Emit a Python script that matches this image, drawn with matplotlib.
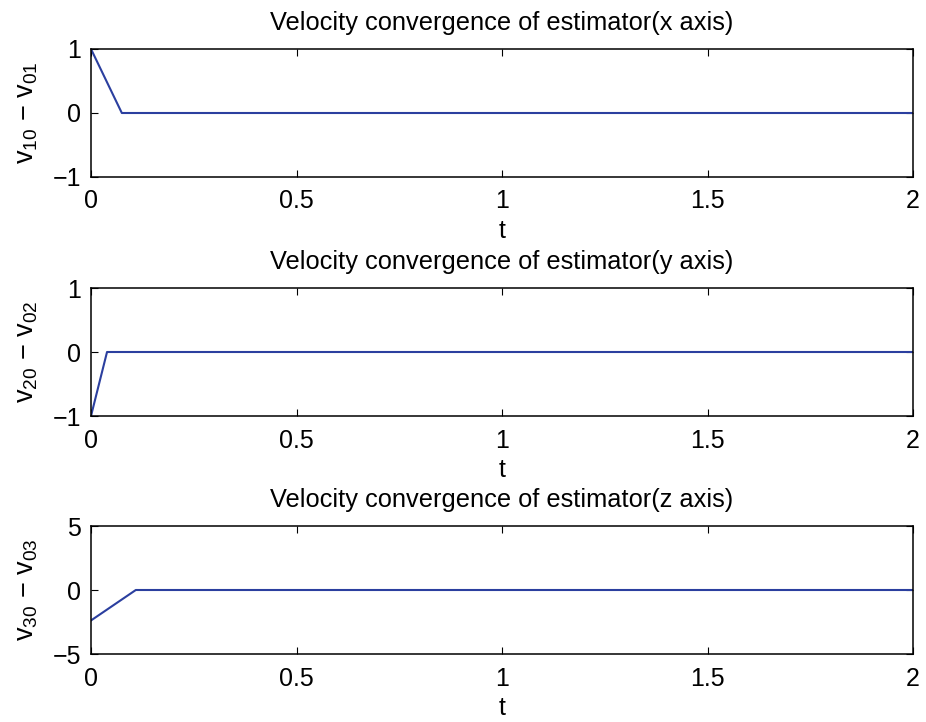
import matplotlib
matplotlib.use("Agg")
import matplotlib.pyplot as plt

plt.rcParams['font.family'] = ['Liberation Sans', 'DejaVu Sans']
plt.rcParams['mathtext.default'] = 'regular'
plt.rcParams['mathtext.fontset'] = 'custom'
plt.rcParams['mathtext.rm'] = 'Liberation Sans'

# error curves (t, value)
t_x = [0, 0.075, 2]
err_x = [1, 0, 0]
t_y = [0, 0.039, 2]
err_y = [-1, 0, 0]
t_z = [0, 0.109, 2]
err_z = [-2.38, 0, 0]

titles = ['Velocity convergence of estimator(x axis)',
          'Velocity convergence of estimator(y axis)',
          'Velocity convergence of estimator(z axis)']
ylabels = [r'$v_{10}$ $-$ $v_{01}$', r'$v_{20}$ $-$ $v_{02}$', r'$v_{30}$ $-$ $v_{03}$']
ylims = [(-1, 1), (-1, 1), (-5, 5)]
yticks = [[-1, 0, 1], [-1, 0, 1], [-5, 0, 5]]
xticks = [0, 0.5, 1, 1.5, 2]
xticklabels = ['0', '0.5', '1', '1.5', '2']

fig = plt.figure(figsize=(9.26, 7.22), dpi=100)
series = [(t_x, err_x), (t_y, err_y), (t_z, err_z)]
# axes boxes in pixels: top, bottom
boxes = [(49, 177), (288, 416), (526, 654)]
W, H = 926.0, 722.0
for i, (t, v) in enumerate(series):
    top, bot = boxes[i]
    ax = fig.add_axes([91 / W, 1 - bot / H, (913 - 91) / W, (bot - top) / H])
    ax.plot(t, v, color='#2b3f9f', lw=1.5)
    ax.set_xlim(0, 2)
    ax.set_ylim(*ylims[i])
    ax.set_xticks(xticks)
    ax.set_xticklabels(xticklabels)
    ax.set_yticks(yticks[i])
    ax.set_yticklabels([str(y).replace('-', '\u2212') for y in yticks[i]])
    ax.tick_params(direction='in', top=True, right=True, labelsize=18, length=5, width=0.8)
    ax.tick_params(axis='x', pad=9)
    ax.tick_params(axis='y', pad=7)
    for s in ax.spines.values():
        s.set_linewidth(1.1)
    ax.set_title(titles[i], fontsize=18.3, pad=14)
    ax.set_xlabel('t', fontsize=18, labelpad=4)
    ax.set_ylabel(ylabels[i], fontsize=19.5, labelpad=9)

fig.savefig('out.png', dpi=100)
